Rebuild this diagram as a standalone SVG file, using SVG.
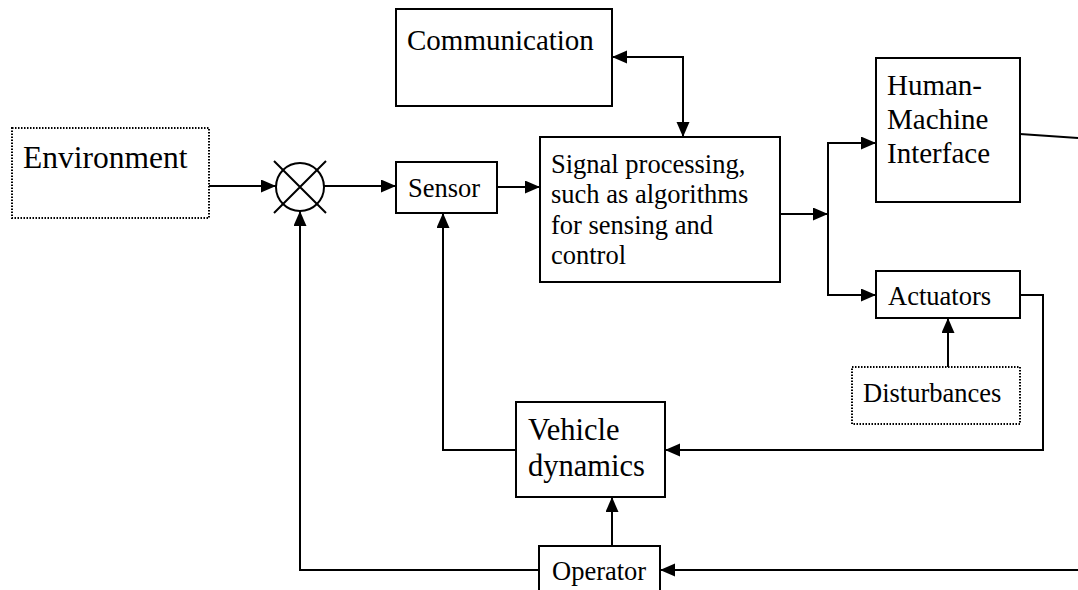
<svg xmlns="http://www.w3.org/2000/svg" width="1078" height="590" viewBox="0 0 1078 590">
<defs>
<style>
.box{fill:#fff;stroke:#000;stroke-width:2}
.dot{fill:#fff;stroke:#000;stroke-width:2;stroke-dasharray:1.5 1.5}
.ln{fill:none;stroke:#000;stroke-width:2}
.big{font-family:"Liberation Serif","Times New Roman",serif;font-size:29px;fill:#000}
.sm{font-family:"Liberation Serif","Times New Roman",serif;font-size:26.5px;fill:#000}
</style>
<marker id="ah" markerUnits="userSpaceOnUse" markerWidth="16" markerHeight="14" refX="15" refY="6.5" orient="auto-start-reverse">
<path d="M0,0 L15,6.5 L0,13 z" fill="#000"/>
</marker>
</defs>
<rect width="1078" height="590" fill="#fff"/>

<g id="connectors">
<path class="ln" d="M203,186 H276" marker-end="url(#ah)"/>
<path class="ln" d="M324,186 H396" marker-end="url(#ah)"/>
<path class="ln" d="M495,187 H540" marker-end="url(#ah)"/>
<path class="ln" d="M683,137 V57 H612" marker-start="url(#ah)" marker-end="url(#ah)"/>
<path class="ln" d="M780,214 H828" marker-end="url(#ah)"/>
<path class="ln" d="M876,143 H828 V295 H876" marker-start="url(#ah)" marker-end="url(#ah)"/>
<path class="ln" d="M1020,134 L1078,138"/>
<path class="ln" d="M948,367 V318" marker-end="url(#ah)"/>
<path class="ln" d="M1020,295 H1043 V450 H665" marker-end="url(#ah)"/>
<path class="ln" d="M516,450 H443 V213" marker-end="url(#ah)"/>
<path class="ln" d="M612,546 V497" marker-end="url(#ah)"/>
<path class="ln" d="M1078,570 H660" marker-end="url(#ah)"/>
<path class="ln" d="M539,570 H300 V211" marker-end="url(#ah)"/>
</g>

<g id="environment">
<rect class="dot" x="12" y="128" width="197" height="90"/>
<text class="big" x="23" y="168" style="font-size:31.5px">Environment</text>
</g>

<g id="summing-junction">
<circle class="box" cx="300" cy="187" r="24"/>
<path class="ln" d="M274,161 L326,213 M326,161 L274,213"/>
</g>

<g id="sensor">
<rect class="box" x="396" y="162" width="101" height="51"/>
<text class="sm" x="408" y="197">Sensor</text>
</g>

<g id="communication">
<rect class="box" x="396" y="9" width="216" height="97"/>
<text class="big" x="407" y="50">Communication</text>
</g>

<g id="signal-processing">
<rect class="box" x="540" y="137" width="240" height="145"/>
<text class="sm" x="551" y="173">Signal processing,</text>
<text class="sm" x="551" y="203">such as algorithms</text>
<text class="sm" x="551" y="234">for sensing and</text>
<text class="sm" x="551" y="264">control</text>
</g>

<g id="hmi">
<rect class="box" x="876" y="58" width="144" height="144"/>
<text class="big" x="887" y="95">Human-</text>
<text class="big" x="887" y="129">Machine</text>
<text class="big" x="887" y="163">Interface</text>
</g>

<g id="actuators">
<rect class="box" x="876" y="271" width="144" height="47"/>
<text class="sm" x="888" y="305">Actuators</text>
</g>

<g id="disturbances">
<rect class="dot" x="852" y="367" width="168" height="57"/>
<text class="sm" x="863" y="402">Disturbances</text>
</g>

<g id="vehicle-dynamics">
<rect class="box" x="516" y="402" width="149" height="95"/>
<text class="big" x="528" y="440" style="font-size:30.5px">Vehicle</text>
<text class="big" x="528" y="476" style="font-size:30.5px">dynamics</text>
</g>

<g id="operator">
<rect class="box" x="539" y="546" width="121" height="60"/>
<text class="sm" x="552" y="580">Operator</text>
</g>
</svg>
